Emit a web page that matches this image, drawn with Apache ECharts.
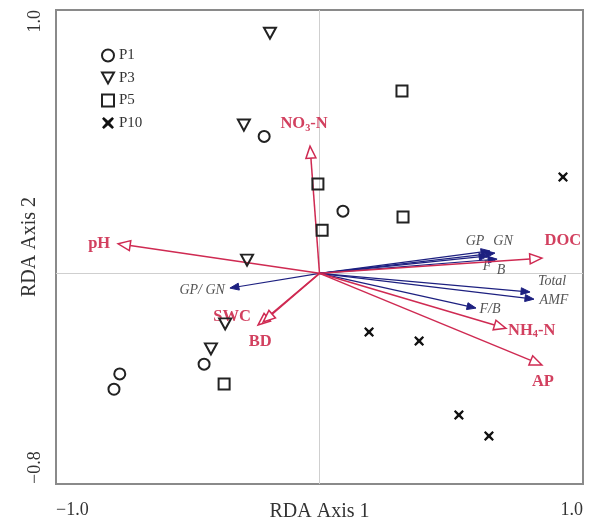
<!DOCTYPE html>
<html><head><meta charset="utf-8">
<script src="https://cdn.jsdelivr.net/npm/echarts@6/dist/echarts.min.js"></script>
<style>html,body{margin:0;padding:0;background:#fff}#c{width:592px;height:524px}</style>
</head><body><div id="c"></div>
<script>
// ---- data ----
const xTicks = [-1.0, 1.0];
const yTicks = [-0.8, 1.0];
const groups = ['P1', 'P3', 'P5', 'P10'];
const P1 = [[-0.21, 0.52], [0.089, 0.236], [-0.758, -0.382], [-0.78, -0.44], [-0.438, -0.345]];
const P3 = [[-0.188, 0.912], [-0.287, 0.563], [-0.275, 0.05], [-0.358, -0.192], [-0.412, -0.287]];
const P5 = [[0.313, 0.692], [-0.006, 0.339], [0.01, 0.164], [0.317, 0.214], [-0.362, -0.42]];
const P10 = [[0.924, 0.366], [0.188, -0.223], [0.378, -0.257], [0.529, -0.538], [0.643, -0.618]];
const envNames = ['NO3-N', 'pH', 'DOC', 'NH4-N', 'AP', 'SWC', 'BD'];
const envX = [-0.036, -0.764, 0.844, 0.708, 0.844, -0.233, -0.214];
const envY = [0.483, 0.112, 0.058, -0.209, -0.348, -0.196, -0.185];
const spNames = ['GP', 'GN', 'F', 'B', 'Total', 'AMF', 'F/B', 'GP/ GN'];
const spX = [0.647, 0.666, 0.64, 0.674, 0.799, 0.814, 0.594, -0.34];
const spY = [0.085, 0.077, 0.066, 0.054, -0.071, -0.098, -0.132, -0.056];

// ---- label layout (pixel offsets from arrow tips) ----
const envLabelPos = {
  'NO3-N': [-6, -22, 'center'], 'pH': [-8, 0, 'right'], 'DOC': [21, -17, 'center'],
  'NH4-N': [2, 2, 'left'], 'AP': [1, 17, 'center'], 'SWC': [-26, -8, 'center'], 'BD': [-3, 20, 'center']
};
const spLabelPos = {
  'GP': [-15, -10, 'center'], 'GN': [8, -12, 'center'], 'F': [-1, 10, 'center'], 'B': [4, 11, 'center'],
  'Total': [22, -11, 'center'], 'AMF': [20, 1, 'center'], 'F/B': [14, 1, 'center'], 'GP/ GN': [-5, 2, 'right']
};
const richName = { 'NO3-N': 'NO{s|3}-N', 'NH4-N': 'NH{s|4}-N' };

const FONT = '"Liberation Serif", "Times New Roman", serif';
const RED = '#cf2a52', REDTXT = '#d2405f', NAVY = '#1d2080', GRAYTXT = '#555';
const BLACK = '#222';
const xPath = 'path://M1.5,0 L5,3.2 L8.5,0 L10,1.5 L6.8,5 L10,8.5 L8.5,10 L5,6.8 L1.5,10 L0,8.5 L3.2,5 L0,1.5 Z';
const triDown = 'path://M0,0 L10,0 L5,9 Z';

function arrowSeries(names, xs, ys, opts) {
  return {
    type: 'custom', coordinateSystem: 'cartesian2d', clip: false, silent: true, z: opts.z,
    data: names.map((n, i) => [xs[i], ys[i], n]),
    renderItem: function (params, api) {
      const i = params.dataIndex;
      const name = names[i];
      const o = api.coord([0, 0]);
      const t = api.coord([api.value(0), api.value(1)]);
      const dx = t[0] - o[0], dy = t[1] - o[1];
      const len = Math.sqrt(dx * dx + dy * dy);
      const ux = dx / len, uy = dy / len;
      const L = opts.headL, W = opts.headW;
      const bx = t[0] - ux * L, by = t[1] - uy * L;
      const px = -uy, py = ux;
      const pos = opts.labels[name];
      const txt = richName[name] || name;
      return {
        type: 'group', children: [
          { type: 'line', shape: { x1: o[0], y1: o[1], x2: opts.open ? bx : t[0] - ux * 2, y2: opts.open ? by : t[1] - uy * 2 },
            style: { stroke: opts.color, lineWidth: opts.lw } },
          { type: 'polygon', shape: { points: [[t[0], t[1]], [bx + px * W, by + py * W], [bx - px * W, by - py * W]] },
            style: { fill: opts.open ? '#fff' : opts.color, stroke: opts.color, lineWidth: opts.open ? 1.5 : 1 } },
          { type: 'text', x: t[0] + pos[0], y: t[1] + pos[1],
            style: { text: txt, fill: opts.textColor, fontFamily: FONT, fontSize: opts.fs,
              fontWeight: opts.fw, fontStyle: opts.fst, align: pos[2], verticalAlign: 'middle',
              rich: { s: { fontSize: opts.fs * 0.62, fontFamily: FONT, fontWeight: opts.fw, fill: opts.textColor, verticalAlign: 'bottom', padding: [8, 0, 0, 0] } } } }
        ]
      };
    }
  };
}

function scatter(name, data, symbol, extra) {
  return Object.assign({
    name: name, type: 'scatter', data: data, symbol: symbol, symbolSize: 11, z: 5,
    itemStyle: { color: 'rgba(255,255,255,0)', borderColor: BLACK, borderWidth: 2, opacity: 1 }
  }, extra || {});
}

const chart = echarts.init(document.getElementById('c'), null, { renderer: 'canvas' });
chart.setOption({
  animation: false,
  backgroundColor: '#fff',
  grid: { left: 56, right: 9, top: 10, bottom: 40, containLabel: false, outerBoundsMode: 'none',
    show: true, borderColor: '#8a8a8a', borderWidth: 2, backgroundColor: 'transparent' },
  legend: {
    orient: 'vertical', left: 96, top: 43, itemWidth: 12, itemHeight: 12, itemGap: 7.5,
    data: [{ name: 'P1' }, { name: 'P3', icon: triDown }, { name: 'P5' }, { name: 'P10' }],
    textStyle: { fontFamily: FONT, fontSize: 15, color: '#333' }
  },
  xAxis: {
    type: 'value', min: -1, max: 1, name: 'RDA Axis 1', nameLocation: 'middle', nameGap: 18, nameMoveOverlap: false,
    nameTextStyle: { fontFamily: FONT, fontSize: 20, color: '#333' },
    axisLine: { show: false }, axisTick: { show: false }, splitLine: { show: false },
    axisLabel: { customValues: xTicks, fontFamily: FONT, fontSize: 18, color: '#333', margin: 17,
      formatter: v => (v < 0 ? '\u2212' : '') + Math.abs(v).toFixed(1), alignMinLabel: 'left', alignMaxLabel: 'right' }
  },
  yAxis: {
    type: 'value', min: -0.8, max: 1, name: 'RDA Axis 2', nameLocation: 'middle', nameGap: 16, nameMoveOverlap: false,
    nameTextStyle: { fontFamily: FONT, fontSize: 20, color: '#333' },
    axisLine: { show: false }, axisTick: { show: false }, splitLine: { show: false },
    axisLabel: { customValues: yTicks, rotate: 90, fontFamily: FONT, fontSize: 18, color: '#333', margin: 12,
      formatter: v => (v < 0 ? '\u2212' : '') + Math.abs(v).toFixed(1), alignMinLabel: 'left', alignMaxLabel: 'right' }
  },
  series: [
    scatter('P1', P1, 'circle', {
      markLine: { silent: true, symbol: 'none', label: { show: false }, lineStyle: { color: '#cfcfcf', width: 1, type: 'solid' },
        data: [{ xAxis: 0 }, { yAxis: 0 }], z: 1 }
    }),
    scatter('P3', P3, triDown, { symbolSize: [12, 11] }),
    scatter('P5', P5, 'rect', { symbolSize: 11 }),
    scatter('P10', P10, xPath, { symbolSize: 10, itemStyle: { color: '#111', borderWidth: 0, opacity: 1 } }),
    arrowSeries(spNames, spX, spY, { z: 3, color: NAVY, textColor: GRAYTXT, headL: 9, headW: 3.5, open: false, lw: 1.2, fs: 14, fw: 'normal', fst: 'italic', labels: spLabelPos }),
    arrowSeries(envNames, envX, envY, { z: 4, color: RED, textColor: REDTXT, headL: 12, headW: 5, open: true, lw: 1.5, fs: 16.5, fw: 'bold', fst: 'normal', labels: envLabelPos })
  ]
});
</script>
</body></html>
